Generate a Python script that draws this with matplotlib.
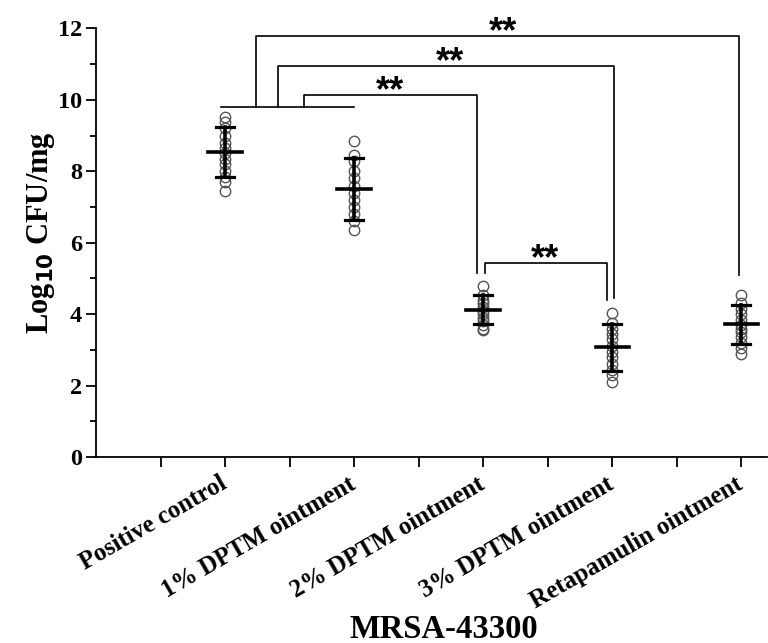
import matplotlib
matplotlib.use("Agg")
import matplotlib.pyplot as plt
from matplotlib.ticker import MultipleLocator

plt.rcParams['font.family'] = 'Liberation Serif'
plt.rcParams['font.weight'] = 'bold'

groups = ["Positive control", "1% DPTM ointment", "2% DPTM ointment",
          "3% DPTM ointment", "Retapamulin ointment"]

# individual log10 CFU/mg values per group
pos_ctrl = [9.52, 9.38, 9.2, 9.0, 8.8, 8.65, 8.5, 8.35, 8.2, 8.0, 7.85, 7.7, 7.45]
dptm_1 = [8.85, 8.45, 8.3, 8.0, 7.8, 7.6, 7.4, 7.2, 7.0, 6.8, 6.6, 6.35]
dptm_2 = [4.78, 4.55, 4.4, 4.3, 4.2, 4.1, 4.0, 3.9, 3.8, 3.7, 3.6, 3.55]
dptm_3 = [4.04, 3.75, 3.6, 3.45, 3.3, 3.1, 2.95, 2.8, 2.6, 2.45, 2.3, 2.1]
retapamulin = [4.55, 4.3, 4.15, 4.0, 3.85, 3.7, 3.6, 3.5, 3.35, 3.2, 3.05, 2.9]

means = [8.54, 7.51, 4.13, 3.07, 3.72]
sds = [0.71, 0.86, 0.40, 0.66, 0.54]

fig = plt.figure(figsize=(7.68, 6.43), dpi=100)
ax = fig.add_axes([0.125, 0.289, 0.874, 0.667])

all_pts = [pos_ctrl, dptm_1, dptm_2, dptm_3, retapamulin]
for i, pts in enumerate(all_pts):
    x = i + 1
    ax.plot([x] * len(pts), pts, 'o', mfc='none', mec='#555555', ms=7.5, mew=1.0, zorder=2)
    m, s = means[i], sds[i]
    ax.plot([x - 0.13, x + 0.13], [m, m], color='black', lw=2.6, zorder=3)
    ax.plot([x, x], [m - s, m + s], color='black', lw=2.6, zorder=3)
    ax.plot([x - 0.07, x + 0.07], [m + s, m + s], color='black', lw=2.3, zorder=3)
    ax.plot([x - 0.07, x + 0.07], [m - s, m - s], color='black', lw=2.3, zorder=3)

# significance brackets
lk = dict(color='black', lw=1.2, clip_on=False)
ax.plot([0.97, 2.0], [9.79, 9.79], **lk)
ax.plot([1.24, 1.24, 4.98, 4.98], [9.79, 11.78, 11.78, 5.09], **lk)
ax.plot([1.41, 1.41, 4.01, 4.01], [9.79, 10.94, 10.94, 4.45], **lk)
ax.plot([1.61, 1.61, 2.95, 2.95], [9.79, 10.13, 10.13, 5.15], **lk)
ax.plot([3.01, 3.01, 3.96, 3.96], [5.15, 5.43, 5.43, 4.39], **lk)

star_x = [3.155, 2.744, 2.28, 3.48]
star_y = [11.78, 10.94, 10.13, 5.43]
for sx, sy in zip(star_x, star_y):
    ax.text(sx, sy - 0.18, "**", ha='center', va='baseline', fontsize=26,
            family='Liberation Sans', fontweight='bold', clip_on=False)

ax.set_xlim(0, 5.2)
ax.set_ylim(0, 12)
ax.spines['top'].set_visible(False)
ax.spines['right'].set_visible(False)
ax.spines['left'].set_linewidth(1.3)
ax.spines['bottom'].set_linewidth(1.3)

ax.yaxis.set_major_locator(MultipleLocator(2))
ax.yaxis.set_minor_locator(MultipleLocator(1))
ax.set_xticks([0.5, 1.5, 2.5, 3.5, 4.5], minor=True)
ax.set_xticks([1, 2, 3, 4, 5])
ax.set_xticklabels(groups, rotation=30, ha='right', va='center', rotation_mode='anchor',
                   fontsize=18, fontweight='bold')
ax.tick_params(axis='both', which='both', direction='out', length=7, width=1.3)
ax.tick_params(axis='x', which='major', pad=11)
ax.tick_params(axis='y', which='minor', length=4)
ax.tick_params(axis='y', labelsize=17.5, pad=3)
for lab in ax.get_yticklabels():
    lab.set_fontweight('bold')

ax.set_ylabel(r"Log$_{\mathbf{10}}$ CFU/mg", fontsize=22, fontweight='bold')
ax.yaxis.set_label_coords(-0.058, 0.524)
ax.set_xlabel("MRSA-43300", fontsize=23.5, fontweight='bold')
ax.xaxis.set_label_coords(0.518, -0.366)

fig.savefig("out.png", dpi=100)
